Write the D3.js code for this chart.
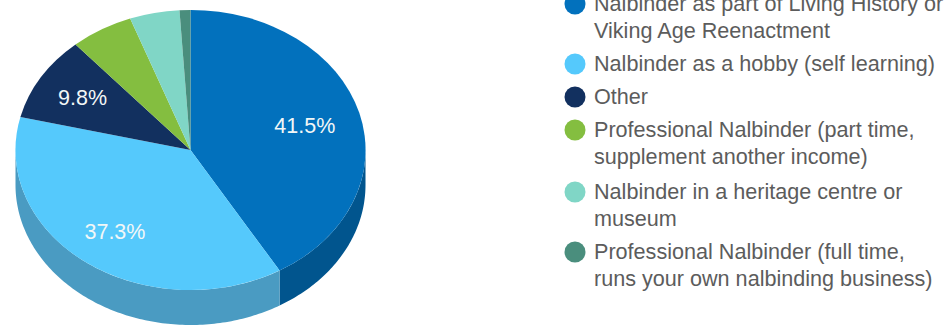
<!DOCTYPE html>
<html>
<head>
<meta charset="utf-8">
<script src="https://cdn.jsdelivr.net/npm/d3@7"></script>
<style>
  html, body { margin: 0; padding: 0; background: #fff; overflow: hidden; }
  svg { display: block; font-family: "Liberation Sans", Arial, sans-serif; }
</style>
</head>
<body>
<svg id="chart" width="949" height="327"></svg>
<script>
// Survey shares, in percent, clockwise from twelve o'clock.
const values = [41.5, 37.3, 9.8, 5.8, 4.6, 1.0];
const legendLabels = [
  ["Nalbinder as part of Living History or", "Viking Age Reenactment"],
  ["Nalbinder as a hobby (self learning)"],
  ["Other"],
  ["Professional Nalbinder (part time,", "supplement another income)"],
  ["Nalbinder in a heritage centre or", "museum"],
  ["Professional Nalbinder (full time,", "runs your own nalbinding business)"]
];
const topColors = ["#0271bd", "#55c9fc", "#12305f", "#84be40", "#80d6c6", "#4a8e7d"];
const sideColors = ["#01558e", "#4a9bc2", "#0d2447", "#638f30", "#60a195", "#386b5e"];
const legendRowTops = [4, 64, 97, 130, 192, 252];

// Tilted-disc geometry
const cx = 190.5, cy = 150, rx = 175, ry = 140, depth = 35;
const svg = d3.select("#chart");

const pie = d3.pie().sort(null).value(d => d);
const slices = pie(values);
const arc = d3.arc().innerRadius(0).outerRadius(1);

const px = d3.scaleLinear().domain([-1, 1]).range([cx - rx, cx + rx]);
const py = d3.scaleLinear().domain([-1, 1]).range([cy - ry, cy + ry]);

// Rim: only the front half of the disc (right, through bottom, to left) shows.
const line = d3.line().x(d => d[0]).y(d => d[1]);
function rimPath(a0, a1) {
  const n = Math.max(2, Math.ceil((a1 - a0) * 60));
  const angles = d3.range(n + 1).map(i => a0 + (a1 - a0) * i / n);
  const upper = angles.map(a => [px(Math.sin(a)), py(-Math.cos(a))]);
  const lower = angles.slice().reverse().map(a => [px(Math.sin(a)), py(-Math.cos(a)) + depth]);
  return line(upper.concat(lower)) + "Z";
}

const rim = svg.append("g");
slices.forEach((s, i) => {
  const a0 = Math.max(s.startAngle, Math.PI / 2);
  const a1 = Math.min(s.endAngle, 3 * Math.PI / 2);
  if (a1 > a0) {
    rim.append("path").attr("d", rimPath(a0, a1)).attr("fill", sideColors[i]);
  }
});

// Top face: unit-circle arcs stretched to the ellipse.
svg.append("g")
  .attr("transform", `translate(${cx},${cy}) scale(${rx},${ry})`)
  .selectAll("path")
  .data(slices)
  .join("path")
  .attr("d", arc)
  .attr("fill", (d, i) => topColors[i]);

// Percent labels on the larger slices; the big slice keeps its label nearer the middle.
const labelRadii = [0.677, 0.725, 0.722];
svg.append("g")
  .selectAll("text")
  .data(slices.filter(s => s.value >= 9))
  .join("text")
  .attr("x", (d, i) => px(labelRadii[i] * Math.sin((d.startAngle + d.endAngle) / 2)))
  .attr("y", (d, i) => py(-labelRadii[i] * Math.cos((d.startAngle + d.endAngle) / 2)))
  .attr("dy", "0.36em")
  .attr("text-anchor", "middle")
  .attr("font-size", 21.5)
  .attr("fill", "#f2f7f7")
  .text(d => d.value.toFixed(1) + "%");

// Legend
const legend = svg.append("g");
legendLabels.forEach((lines, i) => {
  const y = legendRowTops[i];
  legend.append("circle")
    .attr("cx", 575).attr("cy", y).attr("r", 10.5)
    .attr("fill", topColors[i]);
  lines.forEach((t, j) => {
    legend.append("text")
      .attr("x", 594)
      .attr("y", y + j * 27)
      .attr("dy", "0.33em")
      .attr("font-size", 21.6)
      .attr("fill", "#5c5c5c")
      .text(t);
  });
});
</script>
</body>
</html>
